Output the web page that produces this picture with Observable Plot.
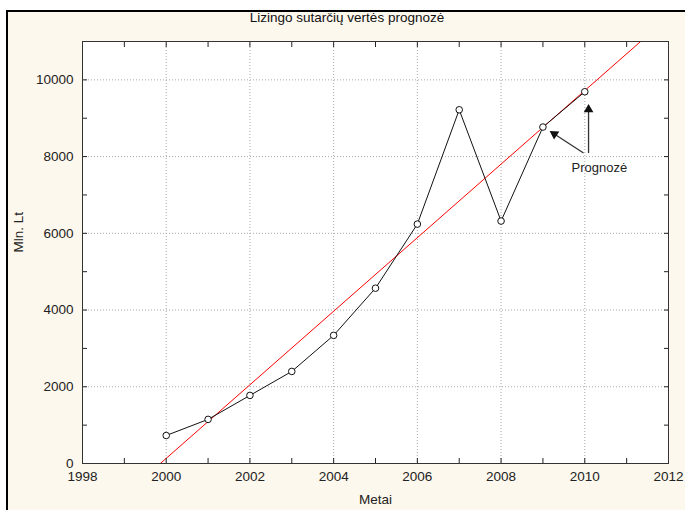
<!DOCTYPE html>
<html>
<head>
<meta charset="utf-8">
<script src="https://cdn.jsdelivr.net/npm/d3@7"></script>
<script src="https://cdn.jsdelivr.net/npm/@observablehq/plot@0.6"></script>
<style>
html, body { margin: 0; padding: 0; background: #ffffff; }
#wrap { position: relative; width: 685px; height: 510px; overflow: hidden; background: #ffffff; }
#panel { position: absolute; left: 6px; top: 10px; width: 720px; height: 540px; background: #fdf8ed; border-left: 2px solid #000; border-top: 2px solid #000; }
#title { position: absolute; left: 0; top: 10px; width: 694px; text-align: center; font: 13.5px "Liberation Sans", Arial, sans-serif; color: #111; }
#chart { position: absolute; left: 0; top: 0; }
</style>
</head>
<body>
<div id="wrap">
  <div id="panel"></div>
  <div id="title">Lizingo sutarčių vertės prognozė</div>
  <div id="chart"></div>
</div>
<script>
// Data (Mln. Lt by year)
const years  = [2000, 2001, 2002, 2003, 2004, 2005, 2006, 2007, 2008, 2009, 2010];
const values = [730, 1150, 1775, 2400, 3340, 4570, 6240, 9220, 6320, 8770, 9690];

// Axis ticks
const xDomain = [1998, 2012];
const yDomain = [0, 11000];
const xTicksMajor = [1998, 2000, 2002, 2004, 2006, 2008, 2010, 2012];
const xTicksMinor = [1998, 1999, 2000, 2001, 2002, 2003, 2004, 2005, 2006, 2007, 2008, 2009, 2010, 2011, 2012];
const yTicksMajor = [0, 2000, 4000, 6000, 8000, 10000];
const yTicksMinor = [0, 1000, 2000, 3000, 4000, 5000, 6000, 7000, 8000, 9000, 10000, 11000];
const xGrid = [2000, 2002, 2004, 2006, 2008, 2010];
const yGrid = [2000, 4000, 6000, 8000, 10000];

// Annotation ("Prognozė") arrows and label
const arrowFromX = [2009.97, 2010.09];
const arrowFromY = [8094, 8094];
const arrowToX   = [2009.16, 2010.09];
const arrowToY   = [8668, 9373];
const noteText = ["Prognozė"];
const noteX = [2010.35];
const noteY = [7702];

const W = 685, H = 510, ML = 82, MR = 17, MT = 41, MB = 47;
const kx = (W - ML - MR) / (xDomain[1] - xDomain[0]);
const ky = (H - MT - MB) / (yDomain[1] - yDomain[0]);

const pts = years.map((y, i) => ({year: y, value: values[i]}));
const headR = 3.6;
const headH = 2 * Math.sqrt(Math.PI * headR * headR / (Math.sqrt(3) * 3));
const arrows = arrowFromX.map((x, i) => {
  const x1 = x, y1 = arrowFromY[i], x2 = arrowToX[i], y2 = arrowToY[i];
  const dxp = (x2 - x1) * kx, dyp = -(y2 - y1) * ky;
  const len = Math.hypot(dxp, dyp);
  const ux = dxp / len, uy = dyp / len;
  return {
    x1, y1, x2, y2,
    hx: x2 - ux * headH / kx,
    hy: y2 + uy * headH / ky,
    angle: Math.atan2(ux, -uy) * 180 / Math.PI
  };
});
const notes = noteText.map((t, i) => ({t, x: noteX[i], y: noteY[i]}));

// Linear trend fitted to the data (least squares)
const mx = d3.mean(years), my = d3.mean(values);
const slope = d3.sum(years, (x, i) => (x - mx) * (values[i] - my)) / d3.sum(years, x => (x - mx) ** 2);
const icpt = my - slope * mx;
const trend = xDomain.map(x => ({year: x, value: icpt + slope * x}));

const chart = Plot.plot({
  width: W,
  height: H,
  marginLeft: ML,
  marginRight: MR,
  marginTop: MT,
  marginBottom: MB,
  style: {background: "transparent", fontFamily: "'Liberation Sans', Arial, sans-serif", fontSize: "13.5px", color: "#222"},
  x: {domain: xDomain},
  y: {domain: yDomain},
  marks: [
    Plot.frame({fill: "white", stroke: null}),
    Plot.gridX(xGrid, {stroke: "#a8a8a8", strokeOpacity: 1, strokeDasharray: "1,2"}),
    Plot.gridY(yGrid, {stroke: "#a8a8a8", strokeOpacity: 1, strokeDasharray: "1,2"}),
    Plot.line(trend, {x: "year", y: "value", stroke: "#ff0000", strokeWidth: 1, clip: true}),
    Plot.line(pts, {x: "year", y: "value", stroke: "#111", strokeWidth: 1}),
    Plot.dot(pts, {x: "year", y: "value", r: 3.3, fill: "white", stroke: "#111", strokeWidth: 1}),
    Plot.link(arrows, {x1: "x1", y1: "y1", x2: "hx", y2: "hy", stroke: "#333", strokeWidth: 1.3}),
    Plot.dot(arrows, {x: "hx", y: "hy", symbol: "triangle", r: headR, fill: "#111", stroke: null, rotate: "angle", dx: 0}),
    Plot.text(notes, {x: "x", y: "y", text: "t", fontSize: 13, fill: "#222"}),
    Plot.axisX({ticks: xTicksMajor, tickFormat: d => String(d), tickSize: 0, tickPadding: 8, fontSize: 13.5, label: null}),
    Plot.axisX({ticks: xTicksMinor, tickSize: -5, text: null, label: null}),
    Plot.axisX({anchor: "top", ticks: xTicksMinor, tickSize: -5, text: null, label: null}),
    Plot.axisY({ticks: yTicksMajor, tickFormat: d => String(d), tickSize: 0, tickPadding: 9, fontSize: 13.5, label: null}),
    Plot.axisY({ticks: yTicksMinor, tickSize: -5, text: null, label: null}),
    Plot.axisY({anchor: "right", ticks: yTicksMinor, tickSize: -5, text: null, label: null}),
    Plot.frame({stroke: "#333", strokeWidth: 1}),
    Plot.text(["Metai"], {frameAnchor: "bottom", dy: 40, fontSize: 13.5}),
    Plot.text(["Mln. Lt"], {frameAnchor: "left", dx: -64, rotate: -90, fontSize: 13.5})
  ]
});
document.getElementById("chart").appendChild(chart);
</script>
</body>
</html>
